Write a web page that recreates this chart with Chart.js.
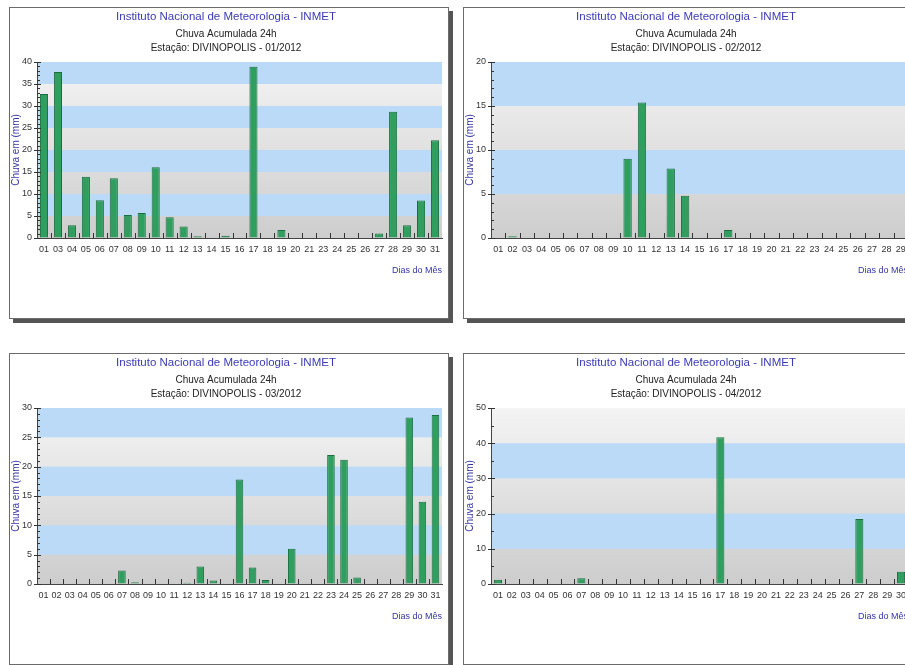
<!DOCTYPE html>
<html>
<head>
<meta charset="utf-8">
<script src="https://cdn.jsdelivr.net/npm/chart.js@4.4.0/dist/chart.umd.min.js"></script>
<style>
  body { margin: 0; width: 905px; height: 665px; overflow: hidden; background: #fff; position: relative; }
  .painel { position: absolute; box-sizing: border-box; height: 312px; border: 1px solid #6b6b6b; background: #fff; box-shadow: 4px 4px 0 #555; }
  .painel canvas { display: block; }
</style>
</head>
<body>
<div class="painel" style="left:9px;top:7px;width:440px"><canvas id="jan" width="438" height="310"></canvas></div>
<div class="painel" style="left:463px;top:7px;width:452px"><canvas id="fev" width="450" height="310"></canvas></div>
<div class="painel" style="left:9px;top:353px;width:440px"><canvas id="mar" width="438" height="310"></canvas></div>
<div class="painel" style="left:463px;top:353px;width:452px"><canvas id="abr" width="450" height="310"></canvas></div>
<script>
// dias do mes (eixo x) e chuva acumulada em mm
const diasJan = ['01','03','04','05','06','07','08','09','10','11','12','13','14','15','16','17','18','19','20','21','23','24','25','26','27','28','29','30','31'];
const chuvaJan = [32.7, 37.7, 2.9, 13.9, 8.6, 13.6, 5.2, 5.7, 16.1, 4.7, 2.6, 0.4, 0, 0.5, 0, 38.9, 0, 1.8, 0, 0, 0, 0, 0, 0, 1.0, 28.7, 2.9, 8.5, 22.2];

const diasFev = ['01','02','03','04','05','06','07','08','09','10','11','12','13','14','15','16','17','18','19','20','21','22','23','24','25','26','27','28','29'];
const chuvaFev = [0, 0.2, 0, 0, 0, 0, 0, 0, 0, 9.0, 15.4, 0, 7.9, 4.8, 0, 0, 0.9, 0, 0, 0, 0, 0, 0, 0, 0, 0, 0, 0, 0];

const diasMar = ['01','02','03','04','05','06','07','08','09','10','11','12','13','14','15','16','17','18','19','20','21','22','23','24','25','26','27','28','29','30','31'];
const chuvaMar = [0, 0, 0, 0, 0, 0, 2.3, 0.3, 0, 0, 0, 0.2, 3.0, 0.6, 0, 17.8, 2.8, 0.7, 0, 6.0, 0, 0, 22.0, 21.2, 1.1, 0, 0, 0, 28.4, 14.0, 28.8];

const diasAbr = ['01','02','03','04','05','06','07','08','09','10','11','12','13','14','15','16','17','18','19','20','21','22','23','24','25','26','27','28','29','30'];
const chuvaAbr = [1.2, 0, 0, 0, 0, 0, 1.6, 0, 0, 0, 0, 0, 0, 0, 0, 0, 41.7, 0, 0, 0, 0, 0, 0, 0, 0, 0, 18.5, 0, 0, 3.5];

// escala y de cada mes: maximo, passo das faixas, passo das marcas menores
const yMaximo = [40, 20, 30, 50];
const yPasso = [5, 5, 5, 10];
const yMenor = [1, 1, 1, 5];

const titulo = 'Instituto Nacional de Meteorologia - INMET';
const fonte = '"Liberation Sans", Arial, sans-serif';

// faixas alternadas azul / cinza no fundo da area do grafico
const faixas = {
  id: 'faixas',
  beforeDraw(chart) {
    const {ctx, chartArea: a, scales: {y}} = chart;
    const passo = y.options.ticks.stepSize;
    ctx.save();
    const g = ctx.createLinearGradient(0, a.top, 0, a.bottom);
    g.addColorStop(0, '#f4f4f4');
    g.addColorStop(1, '#cdcdcd');
    ctx.fillStyle = g;
    ctx.fillRect(a.left, a.top, a.width, a.height);
    for (let v = 0, k = 0; v < y.max; v += passo, k++) {
      if (k % 2 === 1) {
        const y0 = y.getPixelForValue(v + passo);
        const y1 = y.getPixelForValue(v);
        ctx.fillStyle = '#bbdaf8';
        ctx.fillRect(a.left, y0, a.width, y1 - y0);
      }
    }
    ctx.restore();
  }
};

// marcas pequenas nos eixos
const marcas = {
  id: 'marcas',
  afterDatasetsDraw(chart, args, opts) {
    const {ctx, chartArea: a, scales: {x, y}} = chart;
    const passo = y.options.ticks.stepSize;
    ctx.save();
    ctx.strokeStyle = '#333';
    ctx.lineWidth = 1;
    ctx.beginPath();
    for (let v = 0; v <= y.max; v += opts.menor) {
      const py = Math.round(y.getPixelForValue(v)) + 0.5;
      const maior = v % passo === 0;
      ctx.moveTo(a.left - (maior ? 3 : 0), py);
      ctx.lineTo(a.left + (maior ? 4 : 3), py);
    }
    for (let i = 1; i < x.ticks.length; i++) {
      const px = Math.round((x.getPixelForTick(i - 1) + x.getPixelForTick(i)) / 2) + 0.5;
      ctx.moveTo(px, a.bottom);
      ctx.lineTo(px, a.bottom - 5);
    }
    ctx.stroke();
    ctx.restore();
  }
};

function grafico(id, dias, chuva, mes, i) {
  new Chart(document.getElementById(id), {
    type: 'bar',
    data: {
      labels: dias,
      datasets: [{
        data: chuva,
        backgroundColor: '#2f9e5e',
        borderColor: '#1b6f3f',
        borderWidth: 1,
        barPercentage: 0.58,
        categoryPercentage: 1
      }]
    },
    options: {
      responsive: false,
      animation: false,
      layout: { padding: { left: 0, right: 6, top: 0, bottom: 42 } },
      plugins: {
        legend: { display: false },
        tooltip: { enabled: false },
        title: {
          display: true, text: titulo, color: '#3b3bb5',
          font: { family: fonte, size: 11.5, weight: 'normal', lineHeight: 14.4 / 11.5 },
          padding: { top: 2, bottom: 2.6 }
        },
        subtitle: {
          display: true, text: ['Chuva Acumulada 24h', 'Estação: DIVINOPOLIS - ' + mes], color: '#222',
          font: { family: fonte, size: 10, lineHeight: 1.4 },
          padding: { top: 0, bottom: 7 }
        },
        marcas: { menor: yMenor[i] }
      },
      scales: {
        x: {
          grid: { display: true, drawOnChartArea: false, drawTicks: false },
          border: { color: '#444' },
          ticks: { font: { family: fonte, size: 9 }, color: '#333', padding: 6, autoSkip: false, maxRotation: 0 },
          title: { display: true, text: 'Dias do Mês', align: 'end', color: '#3434a8', font: { family: fonte, size: 9 }, padding: 0 },
          afterFit: s => { s.height = 38; }
        },
        y: {
          min: 0, max: yMaximo[i],
          grid: { display: true, drawOnChartArea: false, drawTicks: false },
          border: { color: '#444' },
          ticks: { stepSize: yPasso[i], font: { family: fonte, size: 9 }, color: '#333', padding: 5 },
          title: { display: true, text: 'Chuva em (mm)', color: '#3434a8', font: { family: fonte, size: 10 }, padding: 0 },
          afterFit: s => { s.width = 27; }
        }
      }
    },
    plugins: [faixas, marcas]
  });
}

grafico('jan', diasJan, chuvaJan, '01/2012', 0);
grafico('fev', diasFev, chuvaFev, '02/2012', 1);
grafico('mar', diasMar, chuvaMar, '03/2012', 2);
grafico('abr', diasAbr, chuvaAbr, '04/2012', 3);
</script>
</body>
</html>
